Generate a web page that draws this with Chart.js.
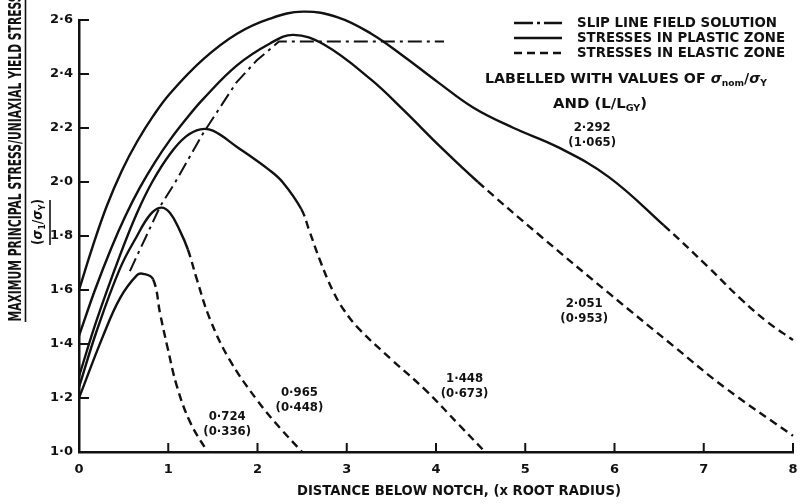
<!DOCTYPE html>
<html>
<head>
<meta charset="utf-8">
<script src="https://cdn.jsdelivr.net/npm/chart.js@4.4.1/dist/chart.umd.min.js"></script>
<style>
  html, body { margin: 0; padding: 0; background: #fff; }
</style>
</head>
<body>
<canvas id="chart" width="801" height="504"></canvas>
<script>
// --- DATA ---
const xTicks = [0, 1, 2, 3, 4, 5, 6, 7, 8];
const yTicks = [1.0, 1.2, 1.4, 1.6, 1.8, 2.0, 2.2, 2.4, 2.6];

// curve labels: sigma_nom/sigma_Y and (L/L_GY)
const stressRatios = ['2·292', '2·051', '1·448', '0·965', '0·724'];
const lengthRatios = ['1·065', '0·953', '0·673', '0·448', '0·336'];

// [distance, sigma1/sigmaY] - plastic zone part, then elastic zone part
const plastic2292 = [[0, 1.60], [0.15, 1.758], [0.31, 1.91], [0.48, 2.042], [0.65, 2.149], [0.83, 2.244], [1.02, 2.328], [1.39, 2.454], [1.77, 2.549], [2.14, 2.605], [2.51, 2.631], [2.9, 2.61], [3.27, 2.55], [3.64, 2.465], [4.02, 2.37], [4.42, 2.275], [4.87, 2.20], [5.36, 2.13], [5.93, 2.02], [6.55, 1.84]];
const elastic2292 = [[6.55, 1.84], [7.05, 1.685], [7.42, 1.565], [7.72, 1.48], [8.0, 1.415]];

const plastic2051 = [[0, 1.43], [0.18, 1.601], [0.36, 1.754], [0.52, 1.874], [0.68, 1.978], [0.85, 2.073], [1.02, 2.156], [1.2, 2.233], [1.39, 2.307], [1.77, 2.432], [2.14, 2.513], [2.40, 2.545], [2.74, 2.51], [3.27, 2.38], [3.64, 2.265], [4.05, 2.13], [4.47, 2.0]];
const elastic2051 = [[4.47, 2.0], [5.17, 1.80], [5.93, 1.59], [6.67, 1.39], [7.23, 1.24], [8.0, 1.06]];

const plastic1448 = [[0, 1.28], [0.2, 1.49], [0.46, 1.729], [0.65, 1.885], [0.82, 2.0], [1.02, 2.104], [1.2, 2.169], [1.36, 2.195], [1.5, 2.19], [1.77, 2.13], [2.13, 2.045], [2.28, 2.0], [2.49, 1.9]];
const elastic1448 = [[2.49, 1.9], [2.58, 1.82], [2.7, 1.71], [2.84, 1.6], [2.97, 1.525], [3.14, 1.455], [3.51, 1.34], [3.88, 1.23], [4.26, 1.1], [4.55, 1.0]];

const plastic0965 = [[0, 1.24], [0.2, 1.45], [0.46, 1.68], [0.65, 1.80], [0.8, 1.88], [0.92, 1.905], [1.02, 1.885], [1.13, 1.82], [1.22, 1.75]];
const elastic0965 = [[1.22, 1.75], [1.32, 1.64], [1.47, 1.49], [1.69, 1.34], [2.0, 1.19], [2.25, 1.09], [2.5, 1.0]];

const plastic0724 = [[0, 1.20], [0.27, 1.43], [0.46, 1.57], [0.65, 1.655], [0.72, 1.66], [0.83, 1.64]];
const elastic0724 = [[0.83, 1.64], [0.91, 1.51], [0.99, 1.39], [1.1, 1.24], [1.25, 1.107], [1.44, 1.0]];

const slipLine = [[0.57, 1.67], [0.91, 1.91], [1.08, 2.0], [1.39, 2.18], [1.76, 2.367], [1.99, 2.45], [2.24, 2.52], [4.09, 2.52]];

// where each pair of labels sits, in data units (centre of the first line)
const labelAnchors = [[5.75, 2.20], [5.66, 1.55], [4.32, 1.27], [2.47, 1.22], [1.66, 1.13]];

// --- STYLE ---
const INK = '#111';
const FONT = "'DejaVu Sans Condensed', 'DejaVu Sans', sans-serif";
const ELASTIC_DASH = [8, 5];
const SLIP_DASH = [14, 5, 3, 5];

const pts = arr => arr.map(([x, y]) => ({ x, y }));

function curveDataset(plastic, elastic) {
    const split = plastic.length - 1;
    return {
        data: pts(plastic.concat(elastic.slice(1))),
        borderColor: INK,
        borderWidth: 2.4,
        pointRadius: 0,
        tension: 0.4,
        clip: false,
        segment: { borderDash: ctx => ctx.p0DataIndex >= split ? ELASTIC_DASH : undefined }
    };
}

// --- TEXT HELPERS ---
function fontFor(p, size) {
    const s = p.sub ? Math.round(size * 0.62) : size;
    return `${p.italic ? 'italic ' : ''}bold ${s}px ${FONT}`;
}

function richWidth(ctx, parts, size) {
    let w = 0;
    parts.forEach(p => { ctx.font = fontFor(p, size); w += ctx.measureText(p.t).width; });
    return w;
}

// draws parts of text in a row; optional width squeezes/stretches it horizontally
function drawRich(ctx, parts, x, y, size, opts = {}) {
    const natural = richWidth(ctx, parts, size);
    const sx = opts.width ? opts.width / natural : 1;
    ctx.save();
    ctx.translate(x, y);
    ctx.scale(sx, 1);
    let cx = opts.align === 'left' ? 0 : -natural / 2;
    ctx.textBaseline = 'middle';
    ctx.textAlign = 'left';
    ctx.fillStyle = INK;
    parts.forEach(p => {
        ctx.font = fontFor(p, size);
        ctx.fillText(p.t, cx, p.sub ? size * 0.32 : 0);
        cx += ctx.measureText(p.t).width;
    });
    ctx.restore();
}

function line(ctx, x1, y1, x2, y2, width, dash) {
    ctx.save();
    ctx.strokeStyle = INK;
    ctx.lineWidth = width;
    ctx.setLineDash(dash || []);
    ctx.beginPath();
    ctx.moveTo(x1, y1);
    ctx.lineTo(x2, y2);
    ctx.stroke();
    ctx.restore();
}

const annotations = {
    id: 'annotations',
    afterDraw(chart) {
        const { ctx, chartArea: area, scales: { x, y } } = chart;

        // inward tick marks
        xTicks.forEach(v => {
            const px = x.getPixelForValue(v);
            line(ctx, px, area.bottom, px, area.bottom - 9, 2);
        });
        yTicks.forEach(v => {
            const py = y.getPixelForValue(v);
            line(ctx, area.left, py, area.left + 10, py, 2);
        });

        // curve labels
        labelAnchors.forEach(([lx, ly], i) => {
            const px = x.getPixelForValue(lx);
            const py = y.getPixelForValue(ly);
            drawRich(ctx, [{ t: stressRatios[i] }], px, py, 13);
            drawRich(ctx, [{ t: '(' + lengthRatios[i] + ')' }], px, py + 15, 13);
        });

        // key
        const rows = [
            { dash: [19, 4, 3, 4], text: 'SLIP LINE FIELD SOLUTION', w: 200 },
            { dash: [], text: 'STRESSES IN PLASTIC ZONE', w: 208 },
            { dash: ELASTIC_DASH, text: 'STRESSES IN ELASTIC ZONE', w: 208 }
        ];
        rows.forEach((r, i) => {
            const ry = 23 + i * 15;
            line(ctx, 514, ry, 562, ry, 2.4, r.dash);
            drawRich(ctx, [{ t: r.text }], 577, ry, 14, { align: 'left', width: r.w });
        });

        drawRich(ctx, [
            { t: 'LABELLED WITH VALUES OF ' }, { t: 'σ', italic: true }, { t: 'nom', sub: true },
            { t: '/' }, { t: 'σ', italic: true }, { t: 'Y', sub: true }
        ], 626, 79, 14, { width: 282 });
        drawRich(ctx, [{ t: 'AND (L/L' }, { t: 'GY', sub: true }, { t: ')' }], 600, 104, 14, { width: 94 });

        // axis titles
        drawRich(ctx, [{ t: 'DISTANCE BELOW NOTCH, (x ROOT RADIUS)' }], 459, 491, 14, { width: 324 });

        ctx.save();
        ctx.translate(17, 158);
        ctx.rotate(-Math.PI / 2);
        drawRich(ctx, [{ t: 'MAXIMUM PRINCIPAL STRESS/UNIAXIAL YIELD STRESS' }], 0, 0, 17, { width: 327 });
        line(ctx, -164, 8.5, 164, 8.5, 1.6);
        ctx.restore();

        ctx.save();
        ctx.translate(38, 222);
        ctx.rotate(-Math.PI / 2);
        drawRich(ctx, [
            { t: '(' }, { t: 'σ', italic: true }, { t: '1', sub: true },
            { t: '/' }, { t: 'σ', italic: true }, { t: 'Y', sub: true }, { t: ')' }
        ], 0, 0, 14, { width: 46 });
        line(ctx, -23, 12, 22, 12, 1.6);
        ctx.restore();
    }
};

const tickFont = { family: "'DejaVu Sans', sans-serif", weight: 'bold', size: 13 };

new Chart(document.getElementById('chart'), {
    type: 'line',
    data: {
        datasets: [
            curveDataset(plastic2292, elastic2292),
            curveDataset(plastic2051, elastic2051),
            curveDataset(plastic1448, elastic1448),
            curveDataset(plastic0965, elastic0965),
            curveDataset(plastic0724, elastic0724),
            {
                data: pts(slipLine),
                borderColor: INK,
                borderWidth: 2,
                borderDash: SLIP_DASH,
                pointRadius: 0,
                tension: 0,
                clip: false
            }
        ]
    },
    options: {
        responsive: false,
        animation: false,
        events: [],
        layout: { padding: { top: 20, right: 8, bottom: 0, left: 0 } },
        plugins: { legend: { display: false }, tooltip: { enabled: false } },
        scales: {
            x: {
                type: 'linear', min: 0, max: 8,
                afterBuildTicks: s => { s.ticks = xTicks.map(v => ({ value: v })); },
                afterFit: s => { s.height = 52; s.paddingLeft = 0; s.paddingRight = 0; },
                grid: { display: false, drawTicks: false },
                border: { display: true, color: INK, width: 2.5 },
                ticks: { color: INK, padding: 10, maxRotation: 0, font: tickFont, callback: v => String(v) }
            },
            y: {
                type: 'linear', min: 1, max: 2.6,
                afterBuildTicks: s => { s.ticks = yTicks.map(v => ({ value: v })); },
                afterFit: s => { s.width = 79; s.paddingTop = 0; s.paddingBottom = 0; },
                grid: { display: false, drawTicks: false },
                border: { display: true, color: INK, width: 2.5 },
                ticks: { color: INK, padding: 6, font: tickFont, callback: v => v.toFixed(1).replace('.', '·') }
            }
        }
    },
    plugins: [annotations]
});
</script>
</body>
</html>
